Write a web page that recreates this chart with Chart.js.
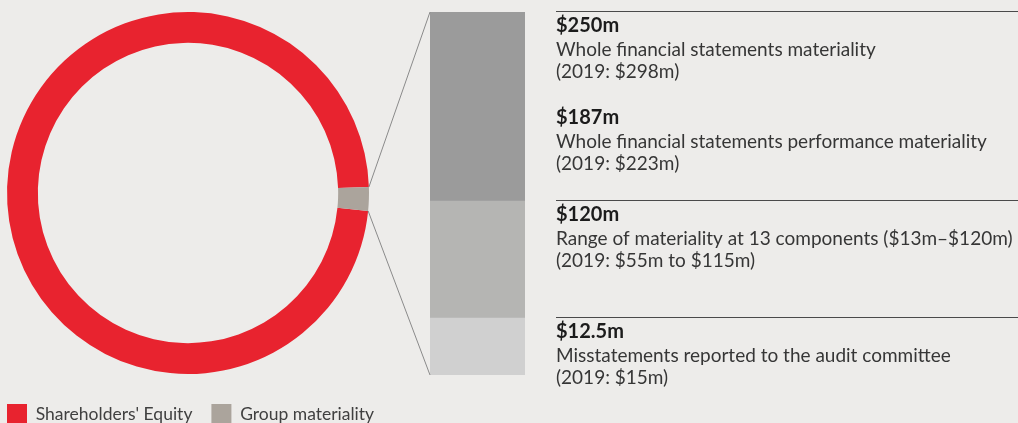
<!DOCTYPE html>
<html>
<head>
<meta charset="utf-8">
<title>Materiality</title>
<script src="https://cdn.jsdelivr.net/npm/chart.js@4.4.1/dist/chart.umd.min.js"></script>
<style>
  html, body { margin: 0; padding: 0; background: #edecea; overflow: hidden; }
  #wrap { position: relative; width: 1018px; height: 423px; }
  #wrap canvas { position: absolute; left: 0; top: 0; }
</style>
</head>
<body>
<div id="wrap">
  <canvas id="ring" width="1018" height="423"></canvas>
  <canvas id="bands" width="1018" height="423"></canvas>
</div>
<script>
// Ring: share of shareholders' equity taken up by group materiality (%)
const ringLabels = ["Shareholders' Equity", "Group materiality"];
const ringShares = [97.9, 2.1];

// Materiality levels shown beside the bar
const levelValues = [250, 187, 120, 12.5];
const levelHeadings = ['$250m', '$187m', '$120m', '$12.5m'];
const levelDescriptions = [
  'Whole financial statements materiality',
  'Whole financial statements performance materiality',
  'Range of materiality at 13 components ($13m\u2013$120m)',
  'Misstatements reported to the audit committee'
];
const levelPriorYear = ['(2019: $298m)', '(2019: $223m)', '(2019: $55m to $115m)', '(2019: $15m)'];
const levelRuled = [true, false, true, true];

// Upper edges of the stacked bar bands ($m)
const bandTops = [12.5, 120, 250];

const FONT = 'Lato, "Open Sans", sans-serif';
Chart.defaults.font.family = FONT;

// Value axis made of linear pieces, so the small band stays readable
const bandStops = [[0, 0], [12.5, 0.157], [120, 0.479], [250, 1]];
function valueToDecimal(v) {
  for (let i = 1; i < bandStops.length; i++) {
    const [v0, d0] = bandStops[i - 1], [v1, d1] = bandStops[i];
    if (v <= v1 || i === bandStops.length - 1) return d0 + (v - v0) / (v1 - v0) * (d1 - d0);
  }
  return 0;
}
function decimalToValue(d) {
  for (let i = 1; i < bandStops.length; i++) {
    const [v0, d0] = bandStops[i - 1], [v1, d1] = bandStops[i];
    if (d <= d1 || i === bandStops.length - 1) return v0 + (d - d0) / (d1 - d0) * (v1 - v0);
  }
  return 0;
}
class PiecewiseScale extends Chart.LinearScale {
  getPixelForValue(value) {
    return value === null ? NaN : this.getPixelForDecimal(valueToDecimal(value));
  }
  getValueForPixel(pixel) {
    return decimalToValue(this.getDecimalForPixel(pixel));
  }
}
PiecewiseScale.id = 'piecewise';
PiecewiseScale.defaults = Chart.LinearScale.defaults;
Chart.register(PiecewiseScale);

// ---- ring ----
const ringColors = ['#e8232f', '#aba49c'];
const greyFrac = ringShares[1] / (ringShares[0] + ringShares[1]);
const greyMidDeg = 91.9;
const ringRotation = greyMidDeg - 360 * (1 - greyFrac) - 180 * greyFrac;

const ringPlacement = {
  id: 'ringPlacement',
  afterLayout(chart) {
    chart.chartArea = { left: 6, top: 11, right: 370, bottom: 375, width: 364, height: 364 };
    const lg = chart.legend;
    const pad = chart.options.plugins.legend.labels.padding;
    lg.left = 7 - pad;
    lg.right = 1018;
    lg.top = 404 - pad;
  }
};

const ring = new Chart(document.getElementById('ring'), {
  type: 'doughnut',
  data: {
    labels: ringLabels,
    datasets: [{
      data: ringShares,
      backgroundColor: ringColors,
      borderWidth: 0,
      radius: 181,
      cutout: 151,
      clip: false
    }]
  },
  options: {
    responsive: false,
    animation: false,
    events: [],
    rotation: ringRotation,
    plugins: {
      tooltip: { enabled: false },
      legend: {
        position: 'bottom',
        align: 'start',
        labels: {
          boxWidth: 20,
          boxHeight: 20,
          padding: 19,
          color: '#404040',
          font: { size: 17.5, family: FONT }
        }
      }
    }
  },
  plugins: [ringPlacement]
});

// ---- stacked bar with notes ----
const bandColors = ['#d0d0d0', '#b5b5b3', '#9b9b9b'];
const bandDatasets = bandTops.map((top, i) => ({
  label: 'band' + i,
  data: [top - (i ? bandTops[i - 1] : 0)],
  backgroundColor: bandColors[i],
  borderWidth: 0,
  barPercentage: 1,
  categoryPercentage: 1
}));

const connectors = {
  id: 'connectors',
  afterDatasetsDraw(chart) {
    const arc = ring.getDatasetMeta(0).data[1];
    const p = arc.getProps(['x', 'y', 'startAngle', 'endAngle', 'outerRadius'], true);
    const topBar = chart.getDatasetMeta(bandTops.length - 1).data[0];
    const lowBar = chart.getDatasetMeta(0).data[0];
    const left = topBar.x - topBar.width / 2;
    const ctx = chart.ctx;
    ctx.save();
    ctx.strokeStyle = '#8a8a8a';
    ctx.lineWidth = 1;
    ctx.beginPath();
    ctx.moveTo(p.x + p.outerRadius * Math.cos(p.startAngle), p.y + p.outerRadius * Math.sin(p.startAngle));
    ctx.lineTo(left, topBar.y);
    ctx.moveTo(p.x + p.outerRadius * Math.cos(p.endAngle), p.y + p.outerRadius * Math.sin(p.endAngle));
    ctx.lineTo(left, lowBar.base);
    ctx.stroke();
    ctx.restore();
  }
};

const levelNotes = {
  id: 'levelNotes',
  afterDraw(chart) {
    const ctx = chart.ctx;
    const y = chart.scales.y;
    const x0 = 556;
    ctx.save();
    ctx.textAlign = 'left';
    ctx.textBaseline = 'alphabetic';
    levelValues.forEach((v, i) => {
      const py = Math.round(y.getPixelForValue(v));
      if (levelRuled[i]) {
        ctx.strokeStyle = '#4a4a4a';
        ctx.lineWidth = 1.2;
        ctx.beginPath();
        ctx.moveTo(x0, py - 0.5);
        ctx.lineTo(1018, py - 0.5);
        ctx.stroke();
      }
      ctx.fillStyle = '#1c1c1c';
      ctx.font = 'bold 20px ' + FONT;
      ctx.fillText(levelHeadings[i], x0, py + 20);
      ctx.fillStyle = '#363636';
      ctx.font = '19px ' + FONT;
      ctx.fillText(levelDescriptions[i], x0, py + 44);
      ctx.fillText(levelPriorYear[i], x0, py + 66);
    });
    ctx.restore();
  }
};

new Chart(document.getElementById('bands'), {
  type: 'bar',
  data: { labels: ['Materiality'], datasets: bandDatasets },
  options: {
    responsive: false,
    animation: false,
    events: [],
    layout: { padding: { left: 430, right: 493, top: 12, bottom: 48 } },
    scales: {
      x: { display: false, stacked: true, offset: true },
      y: { type: 'piecewise', display: false, stacked: true, min: 0, max: 250 }
    },
    plugins: { legend: { display: false }, tooltip: { enabled: false } }
  },
  plugins: [connectors, levelNotes]
});
</script>
</body>
</html>
